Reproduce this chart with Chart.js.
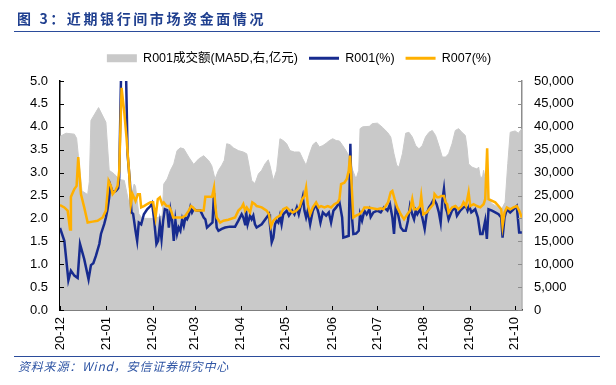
<!DOCTYPE html>
<html><head><meta charset="utf-8">
<script src="https://cdn.jsdelivr.net/npm/chart.js@4.4.1/dist/chart.umd.min.js"></script>
<style>
html,body{margin:0;padding:0;background:#fff;}
#wrap{position:relative;width:616px;height:385px;overflow:hidden;background:#fff;}
#title{position:absolute;left:17px;top:8px;font-family:"Noto Sans CJK SC";font-weight:bold;font-size:14px;color:#1f3f8f;letter-spacing:2.6px;white-space:nowrap;}
#tline{position:absolute;left:14px;top:31px;width:586px;height:0;border-top:1.5px solid #2b4c9b;}
#fline{position:absolute;left:14px;top:356px;width:586px;height:0;border-top:1.5px solid #2b4c9b;}
#foot{position:absolute;left:18px;top:357px;padding-right:8px;font-family:"Noto Sans CJK SC";font-style:italic;font-size:12px;color:#2f55a4;letter-spacing:0.8px;white-space:nowrap;overflow:visible;}
canvas{position:absolute;left:0;top:0;}
</style></head>
<body>
<div id="wrap">
<canvas id="c" width="616" height="385"></canvas>
<div id="title">图 3：近期银行间市场资金面情况</div>
<div id="tline"></div>
<div id="fline"></div>
<div id="foot">资料来源：Wind，安信证券研究中心&nbsp;</div>
</div>
<script>
// x positions are calendar days counted from 2020-12-01
const monthLabels = ['20-12','21-01','21-02','21-03','21-04','21-05','21-06','21-07','21-08','21-09','21-10'];
const monthStartDays = [0,31,62,90,121,151,182,212,243,274,304];

const seriesNames = ['R001成交额(MA5D,右,亿元)','R001(%)','R007(%)'];

const r001Days = [0,2.9,5.6,7.3,9.6,11.8,13.4,16.2,19.1,20.7,22.3,24.0,26.3,27.4,29.6,30.7,31.8,32.9,33.6,35.2,37.4,38.9,39.6,41.2,43.8,45.2,46.7,47.8,48.9,50.5,51.6,52.7,54.3,56.1,58.3,60.5,61.6,62.8,64.5,65.6,66.8,67.9,69.0,70.1,71.7,72.8,73.9,75.0,76.1,77.2,78.3,79.4,80.5,81.7,82.8,83.9,85.0,86.1,87.2,88.3,89.4,91.7,93.9,96.1,97.2,98.3,100.6,102.0,103.0,103.9,104.8,106.0,108.2,110.4,113.7,117.1,119.3,121.5,122.6,123.8,124.4,125.5,127.1,128.2,129.3,130.4,131.5,134.9,138.2,139.8,140.4,141.6,142.7,143.8,144.9,146.0,147.1,148.2,149.3,151.6,153.1,155.3,156.8,158.4,159.7,161.3,162.4,163.5,164.6,165.7,167.3,169.1,171.3,173.1,174.2,175.8,178.0,179.8,181.3,182.9,184.7,186.9,188.7,189.5,191.3,193.1,194.2,195.3,196.2,198.0,199.8,200.7,202.0,203.6,205.1,206.9,207.8,209.6,212.3,214.5,216.7,219.0,220.7,222.3,223.4,224.5,226.1,227.9,229.6,231.2,232.7,234.1,235.6,236.8,237.9,239.0,240.8,242.3,243.9,245.2,246.8,248.3,250.1,251.9,253.4,254.6,255.7,256.8,257.9,259.0,259.9,262.2,264.4,265.5,267.7,269.9,271.5,272.6,273.7,275.1,277.7,279.5,281.1,282.6,284.4,285.5,286.6,288.9,291.1,293.3,295.1,296.0,297.3,298.9,301.1,303.3,305.5,307.1,308.9];
const r001Values = [1.79,1.51,0.65,0.86,0.75,0.70,1.44,1.11,0.67,0.98,1.02,1.18,1.44,1.66,1.88,2.02,2.2,2.46,2.73,2.57,2.6,2.66,2.89,5.8,5.8,3.4,2.82,2.13,2.1,1.73,1.51,1.91,1.87,2.09,2.2,2.27,2.33,2.02,1.44,1.51,1.87,1.55,1.95,2.2,2.18,1.8,2.17,1.95,1.51,1.95,1.66,1.8,1.73,1.98,1.84,2.02,1.98,2.06,2.24,2.13,2.2,2.17,2.17,2.02,1.98,1.8,1.87,1.91,2.55,2.17,1.8,1.73,1.77,1.8,1.82,1.82,1.95,2.09,2.02,1.87,2.17,1.87,2.06,1.98,2.06,1.87,1.8,1.87,2.02,2.09,1.87,1.48,1.58,1.87,1.95,1.91,2.06,1.87,2.09,2.17,2.06,2.17,2.09,2.24,2.09,2.31,2.47,2.17,2.02,2.17,1.87,2.17,2.31,2.09,1.91,2.13,2.06,2.13,1.91,2.17,2.24,2.35,2.02,1.58,1.6,1.62,3.63,2.02,1.66,1.67,1.73,2.09,1.95,2.17,2.09,2.2,2.03,2.13,2.17,2.13,2.24,2.17,2.31,2.02,1.66,2.24,2.09,1.8,1.73,1.73,1.95,2.27,2.09,1.98,2.17,2.09,2.2,2.02,1.77,2.09,2.24,2.31,2.42,2.31,2.13,1.91,2.38,2.64,2.24,2.13,1.98,2.17,2.24,2.06,2.17,2.24,2.27,2.17,2.27,2.13,2.2,2.02,1.66,1.66,1.95,1.55,2.2,2.17,2.13,2.09,2.02,1.58,2.02,2.2,2.13,2.2,2.27,1.69,1.69];

const r007Days = [0,2.9,5.1,6.7,7.3,9.6,11.1,12.2,14.0,16.2,18.5,21.8,25.1,28.5,30.7,32.5,34.0,35.2,36.9,38.5,39.6,41.2,42.9,44.5,46.3,47.4,48.5,50.5,52.1,53.4,54.3,56.1,58.3,60.5,62.3,63.9,65.4,66.8,68.3,69.4,71.2,72.8,74.3,75.7,79.4,81.7,83.9,86.1,87.7,89.0,90.6,96.1,97.2,101.7,103.0,104.0,104.8,107.1,109.3,112.6,117.1,119.3,121.5,122.6,123.8,124.9,127.1,128.6,130.4,131.5,134.9,138.2,139.8,141.1,142.7,144.9,147.1,149.3,151.6,153.8,155.7,158.0,160.2,162.0,163.5,164.6,165.7,167.3,169.1,171.3,173.1,174.6,176.9,179.1,181.3,183.5,185.8,186.9,188.0,190.2,191.8,193.1,194.0,194.9,196.2,198.0,200.2,202.5,203.6,205.8,208.9,212.3,214.5,216.3,217.8,219.4,221.2,222.3,223.8,225.6,227.9,230.1,232.3,234.1,235.6,236.8,239.0,240.8,241.6,243.0,245.2,247.9,249.7,250.5,252.3,253.4,255.0,256.8,257.9,259.0,259.9,262.2,264.4,266.6,268.8,269.9,271.5,273.3,274.4,276.6,278.8,281.1,283.3,284.4,285.7,286.6,291.1,293.3,295.1,296.0,297.3,298.9,301.1,303.3,305.5,307.1,308.9];
const r007Values = [2.29,2.24,2.17,1.76,2.47,2.64,2.71,3.34,2.53,2.24,1.91,1.93,1.95,2.02,2.17,2.82,2.71,2.53,2.6,2.71,3.04,4.85,4.35,3.76,2.96,2.31,2.53,2.38,2.53,2.53,2.24,2.27,2.31,2.35,2.35,2.02,2.42,2.46,2.31,2.35,2.27,2.27,2.17,2.02,2.02,2.02,2.06,2.17,2.27,2.24,2.17,2.17,2.47,2.47,2.67,2.24,2.02,1.91,1.95,1.97,2.02,2.17,2.24,2.31,2.17,2.24,2.13,2.35,2.31,2.27,2.24,2.17,2.09,1.82,1.95,2.02,2.06,2.2,2.24,2.17,2.13,2.17,2.24,2.42,2.49,2.67,2.31,2.09,2.24,2.35,2.24,2.27,2.24,2.27,2.24,2.31,2.35,2.42,2.75,2.78,2.86,3.04,3.37,2.82,2.02,2.06,2.09,2.17,2.24,2.24,2.22,2.2,2.22,2.2,2.27,2.35,2.57,2.6,2.42,2.24,2.09,1.98,2.09,2.17,2.42,2.2,2.2,2.27,2.49,2.09,2.13,2.24,2.31,2.53,2.46,2.46,2.49,2.49,2.35,2.31,2.13,2.24,2.27,2.2,2.27,2.35,2.27,2.57,2.27,2.31,2.27,2.24,2.31,2.42,3.53,2.42,2.35,2.27,2.2,1.84,2.13,2.24,2.2,2.24,2.27,2.17,2.02];

const volDays = [0,4.0,9.6,11.1,12.5,14.7,18.5,19.6,20.7,25.8,30.7,32.9,36.3,39.6,43.0,46.3,49.6,50.5,52.7,55.0,62.8,68.3,69.4,71.7,73.9,76.1,78.3,80.5,82.8,86.1,89.4,92.8,96.1,99.5,101.5,103.7,106.0,108.2,109.9,111.5,113.7,116.0,119.3,122.6,124.9,126.0,128.2,130.4,132.7,134.9,137.1,139.3,140.4,142.7,144.9,147.1,149.3,151.6,153.8,156.8,160.2,162.4,164.6,166.9,169.1,171.3,173.5,175.8,178.0,180.2,182.4,184.7,186.9,189.1,191.3,193.6,195.8,198.0,199.8,200.7,202.5,206.9,208.9,212.3,215.6,219.0,221.2,223.4,225.2,226.7,229.0,231.2,233.4,235.6,237.9,240.1,242.3,244.5,246.8,249.0,251.2,253.4,255.7,257.9,259.9,262.2,264.4,266.6,268.8,271.1,272.2,273.3,275.5,278.8,280.0,281.1,282.6,283.3,285.5,286.6,288.9,291.1,293.3,295.5,297.7,299.5,301.1,304.4,306.6,308.9];
const volValues = [37900,38600,38400,37500,33000,26000,25200,28000,41400,44200,41000,30500,29700,28500,28300,23000,27500,27000,21000,20000,20000,20500,27500,28600,30500,31900,34800,35400,35200,33400,31800,33000,33700,32600,31500,28600,30500,31600,32700,36300,36100,35400,34800,34500,34100,32300,28300,27600,29700,30500,31900,32800,31600,28300,30500,37400,37000,36300,34800,34500,34500,33000,31600,34100,36100,36700,35600,35900,36400,37000,37400,37000,36900,35900,34800,33400,30500,28600,30500,39600,40000,40100,40700,40800,39900,38800,37800,34100,31600,31200,34100,38600,38800,37800,35900,35200,35900,37800,38800,39200,38100,35900,33400,33400,34100,36300,39200,39600,38800,38100,35600,31900,31200,30800,31200,29000,29000,30500,26800,24300,23200,22800,22400,22100,23500,32000,38800,39100,38600,39600];

const pts = (xs, ys) => xs.map((x, i) => ({x: x, y: ys[i]}));

const FONT = '"Liberation Sans", Arial, "Noto Sans CJK SC", sans-serif';

const innerTicks = {
  id: 'innerTicks',
  afterDatasetsDraw(chart) {
    const {ctx, chartArea: a, scales} = chart;
    ctx.save();
    ctx.lineWidth = 1;
    ctx.strokeStyle = '#000';
    scales.x.ticks.forEach(t => {
      const px = Math.round(scales.x.getPixelForValue(t.value)) + 0.5;
      ctx.beginPath(); ctx.moveTo(px, a.bottom); ctx.lineTo(px, a.bottom - 4); ctx.stroke();
    });
    scales.y.ticks.forEach(t => {
      const py = Math.round(scales.y.getPixelForValue(t.value)) + 0.5;
      ctx.beginPath(); ctx.moveTo(a.left, py); ctx.lineTo(a.left + 4, py); ctx.stroke();
    });
    ctx.strokeStyle = '#8c8c8c';
    scales.y1.ticks.forEach(t => {
      const py = Math.round(scales.y1.getPixelForValue(t.value)) + 0.5;
      ctx.beginPath(); ctx.moveTo(a.right, py); ctx.lineTo(a.right - 4, py); ctx.stroke();
    });
    ctx.restore();
  }
};

const legendHeight = {
  id: 'legendHeight',
  beforeInit(chart) {
    const lg = chart.legend;
    const orig = lg.fit;
    lg.fit = function () { orig.call(this); this.height = 40; };
  },
  afterLayout(chart) {
    const lg = chart.legend;
    lg.left -= 9; lg.right -= 9;
  }
};

new Chart(document.getElementById('c'), {
  type: 'line',
  data: {
    datasets: [
      {
        label: seriesNames[0], data: pts(volDays, volValues), yAxisID: 'y1',
        fill: 'origin', backgroundColor: '#c9c9c9', borderColor: '#c9c9c9', borderWidth: 1,
        pointRadius: 0, tension: 0, order: 3
      },
      {
        label: seriesNames[1], data: pts(r001Days, r001Values), yAxisID: 'y',
        borderColor: '#172b8f', borderWidth: 2.5, pointRadius: 0, tension: 0, fill: false, order: 2
      },
      {
        label: seriesNames[2], data: pts(r007Days, r007Values), yAxisID: 'y',
        borderColor: '#ffb000', borderWidth: 2.5, pointRadius: 0, tension: 0, fill: false, order: 1
      }
    ]
  },
  options: {
    responsive: false,
    animation: false,
    layout: {padding: {top: 41, bottom: 27, left: 0, right: 0}},
    plugins: {
      tooltip: {enabled: false},
      legend: {
        position: 'top',
        labels: {
          usePointStyle: true, pointStyleWidth: 30, boxHeight: 8, padding: 11,
          color: '#000', font: {size: 12.5, family: FONT},
          generateLabels(chart) {
            return chart.data.datasets.map((d, i) => ({
              text: d.label, datasetIndex: i,
              fillStyle: i === 0 ? d.backgroundColor : d.borderColor,
              strokeStyle: d.borderColor,
              lineWidth: i === 0 ? 0 : 3,
              pointStyle: i === 0 ? 'rect' : 'line',
              hidden: false, fontColor: '#000'
            }));
          }
        }
      }
    },
    scales: {
      x: {
        type: 'linear', position: 'bottom', min: 0, max: 309,
        grid: {display: false, drawTicks: false},
        border: {display: true, color: '#000', width: 1.5},
        afterBuildTicks: s => { s.ticks = monthStartDays.map(v => ({value: v})); },
        afterFit: s => { s.height = 48; },
        ticks: {
          autoSkip: false, maxRotation: 90, minRotation: 90, padding: 7,
          color: '#000', font: {size: 13, family: FONT},
          callback: v => { const i = monthStartDays.indexOf(v); return i >= 0 ? monthLabels[i] : ''; }
        }
      },
      y: {
        position: 'left', min: 0, max: 5,
        grid: {display: false, drawTicks: false},
        border: {display: true, color: '#000', width: 1.5},
        afterFit: s => { s.width = 60; },
        ticks: {stepSize: 0.5, padding: 12, color: '#000', font: {size: 13, family: FONT},
          callback: v => Number(v).toFixed(1)}
      },
      y1: {
        position: 'right', min: 0, max: 50000,
        grid: {display: false, drawTicks: false},
        border: {display: true, color: '#8c8c8c', width: 1.5},
        afterFit: s => { s.width = 94; },
        ticks: {stepSize: 5000, padding: 12, color: '#000', font: {size: 13, family: FONT},
          callback: v => Number(v).toLocaleString('en-US')}
      }
    }
  },
  plugins: [innerTicks, legendHeight]
});
</script>
</body></html>
